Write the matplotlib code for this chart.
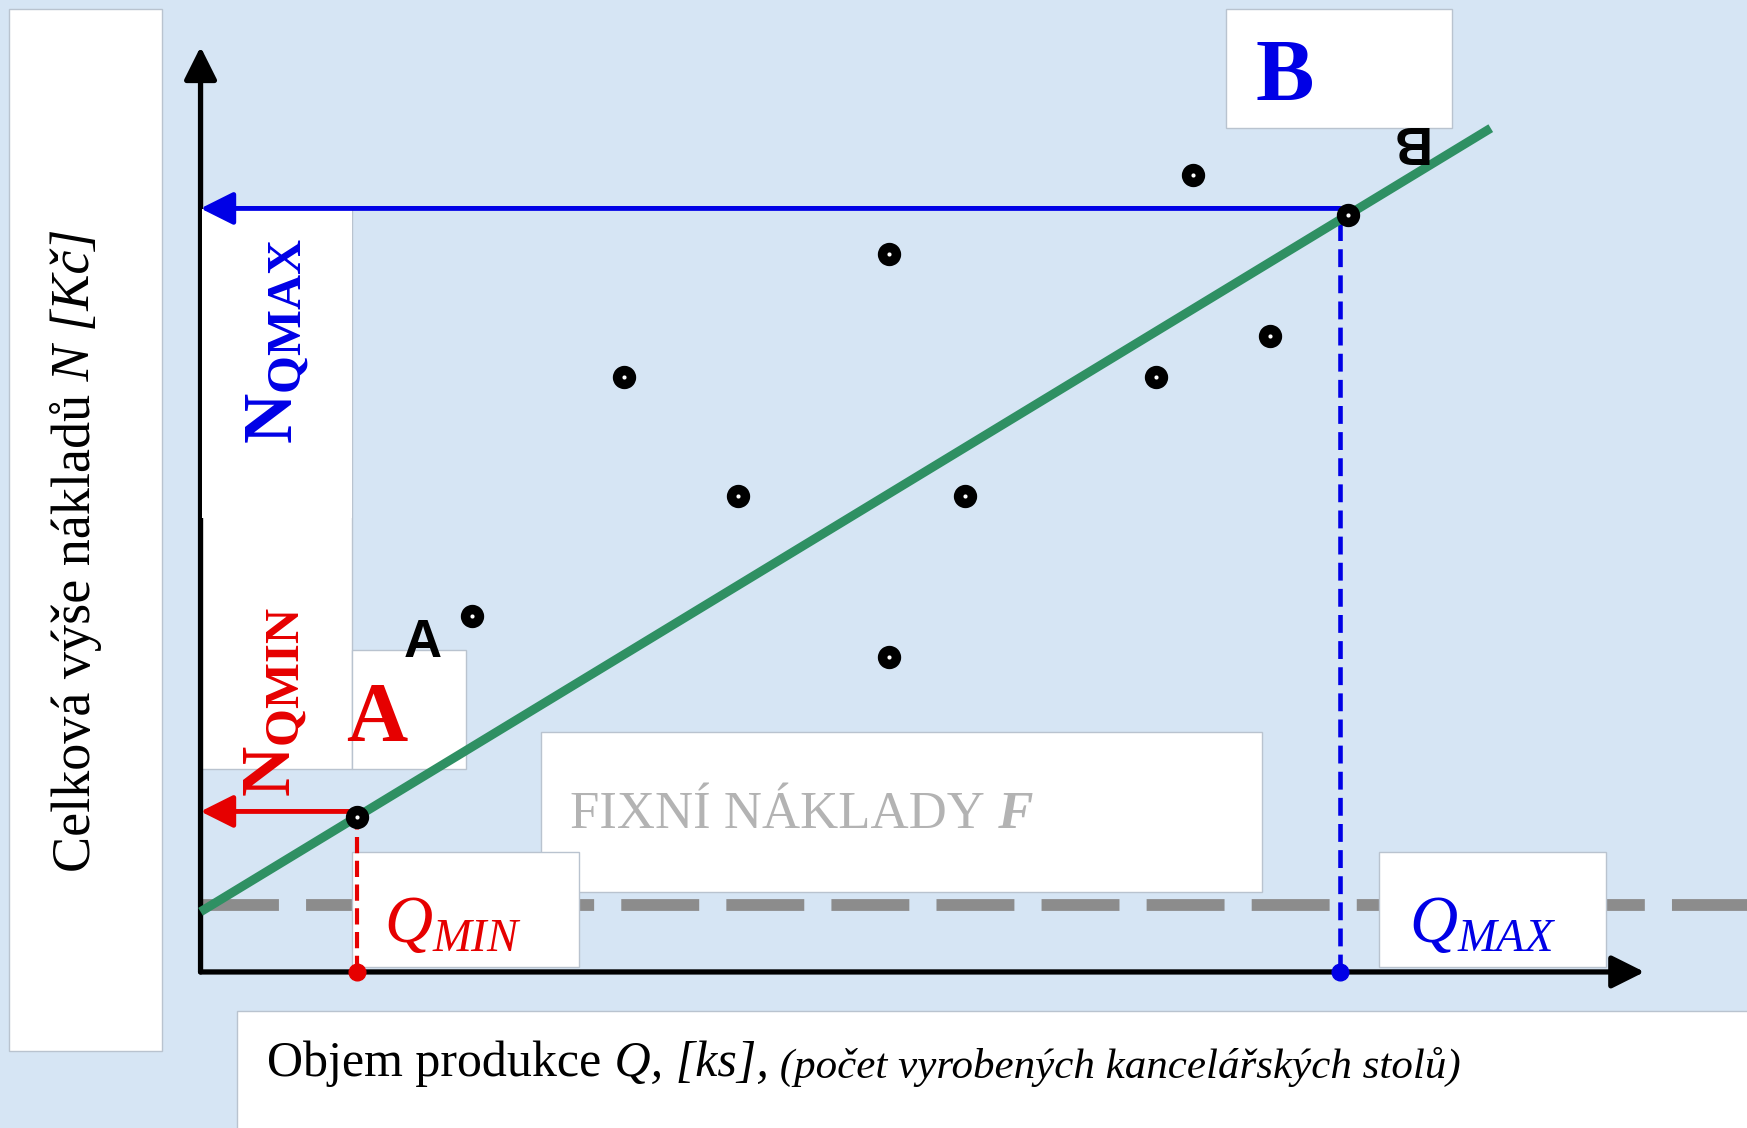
import matplotlib
matplotlib.use('Agg')
import matplotlib.pyplot as plt
from matplotlib.patches import Rectangle

plt.rcParams['font.family'] = ['Liberation Serif', 'DejaVu Serif']
plt.rcParams['mathtext.fontset'] = 'custom'
plt.rcParams['mathtext.rm'] = 'Liberation Serif'
plt.rcParams['mathtext.it'] = 'Liberation Serif:italic'
plt.rcParams['mathtext.bf'] = 'Liberation Serif:bold'

# schematic values (arbitrary units)
q_min, q_max = 1.40, 10.23
n_qmin, n_qmax = 1.44, 6.85
fixed_cost = 0.60
line_q = [0.0, 11.58]
line_n = [0.54, 7.57]
pts_q = [2.44, 3.80, 4.82, 6.18, 6.18, 6.86, 8.58, 8.91, 9.60]
pts_n = [3.19, 5.34, 4.27, 6.44, 2.83, 4.27, 5.34, 7.15, 5.71]
ab_q = [q_min, 10.30]
ab_n = [1.39, 6.79]
x_end, y_end = 12.96, 8.30

bg = '#d6e5f4'
blue = '#0000e6'
red = '#e60000'
green = '#2f9063'
edge = '#b9c3cf'

fig = plt.figure(figsize=(17.47, 11.28), dpi=100)
fig.patch.set_facecolor(bg)
ax = fig.add_axes([0, 0, 1, 1])
ax.set_xlim(-1.80, 13.88)
ax.set_ylim(-1.40, 8.72)
ax.axis('off')


def box(x0, y0, x1, y1, z=1, ec=edge):
    ax.add_patch(Rectangle((x0, y0), x1 - x0, y1 - y0, facecolor='white',
                           edgecolor=ec, lw=1, zorder=z))


box(-1.72, -0.71, -0.35, 8.64)      # y label
box(0.0, 1.82, 1.36, 6.85)          # N_QMIN / N_QMAX column
box(0.012, 4.07, 1.355, 6.845, z=2.5, ec='none')  # hides part of the axis
box(1.36, 1.82, 2.38, 2.89)         # A
box(3.06, 0.72, 9.53, 2.15)         # fixed costs
box(1.36, 0.04, 3.40, 1.08)         # Q_MIN
box(10.58, 0.04, 12.61, 1.08)       # Q_MAX
box(9.20, 7.57, 11.23, 8.64)        # B
box(0.33, -1.60, 14.2, -0.35)       # x label

# fixed costs line
ax.plot([0, 13.88], [fixed_cost, fixed_cost], color='#8c8c8c', lw=8.5,
        dashes=(6.6, 2.3), solid_capstyle='butt', zorder=0.5)

# axes with arrows
arrow = dict(arrowstyle='-|>,head_length=1.0,head_width=0.5', mutation_scale=20,
             shrinkA=0, shrinkB=0)
ax.annotate('', xy=(x_end, 0), xytext=(0, 0),
            arrowprops=dict(color='black', lw=3.8, **arrow), zorder=2)
ax.annotate('', xy=(0, y_end), xytext=(0, 0),
            arrowprops=dict(color='black', lw=3.8, **arrow), zorder=2)

# guides to A and B
ax.plot([q_min, q_min], [0, n_qmin], color=red, lw=3, dashes=(3.9, 1.8), zorder=3)
ax.plot([q_max, q_max], [0, n_qmax], color=blue, lw=3.3, dashes=(3.9, 1.8), zorder=3)
ax.annotate('', xy=(0, n_qmin), xytext=(q_min, n_qmin),
            arrowprops=dict(color=red, lw=3.5, **arrow), zorder=3)
ax.annotate('', xy=(0, n_qmax), xytext=(q_max, n_qmax),
            arrowprops=dict(color=blue, lw=3.5, **arrow), zorder=3)
ax.plot([q_min], [0], 'o', color=red, ms=12, zorder=4)
ax.plot([q_max], [0], 'o', color=blue, ms=12, zorder=4)

# cost line and observations
ax.plot(line_q, line_n, color=green, lw=6.5, solid_capstyle='butt', zorder=4)
ax.plot(pts_q + ab_q, pts_n + ab_n, 'o', ms=10, mfc='white', mec='black',
        mew=6.8, zorder=5)

# labels
ax.text(0.69, 5.66, r'$\mathbf{N}_{\mathbf{QMAX}}$', color=blue, fontsize=50,
        rotation=90, ha='center', va='center', zorder=6)
ax.text(0.67, 2.42, r'$\mathbf{N}_{\mathbf{QMIN}}$', color=red, fontsize=50,
        rotation=90, ha='center', va='center', zorder=6)
ax.text(1.58, 2.26, 'A', color=red, fontsize=61, fontweight='bold',
        ha='center', va='center', zorder=6)
ax.text(1.99, 2.95, 'A', color='black', fontsize=38, fontweight='bold',
        family='Liberation Sans', ha='center', va='center', zorder=6)
ax.text(9.73, 8.02, 'B', color=blue, fontsize=63, fontweight='bold',
        ha='center', va='center', zorder=6)
ax.text(10.83, 7.46, 'B', color='black', fontsize=38, fontweight='bold',
        family='Liberation Sans', rotation=180, ha='center', va='center', zorder=6)
ax.text(1.65, 0.27, r'$Q_{MIN}$', color=red, fontsize=48, ha='left',
        va='baseline', zorder=6)
ax.text(10.85, 0.27, r'$Q_{MAX}$', color=blue, fontsize=48, ha='left',
        va='baseline', zorder=6)

t = ax.text(3.32, 1.29, 'FIXNÍ NÁKLADY', color='#b3b3b3', fontsize=38,
            ha='left', va='baseline', zorder=6)
ax.annotate(' F', xy=(1, 0), xycoords=t, color='#b3b3b3', fontsize=38,
            style='italic', fontweight='bold', ha='left', va='bottom', zorder=6)

t = ax.text(0.60, -0.93, 'Objem produkce', fontsize=36, ha='left',
            va='baseline', zorder=6)
t = ax.annotate(' Q, [ks],', xy=(1, 0), xycoords=t, fontsize=36, style='italic',
                ha='left', va='bottom', zorder=6)
ax.annotate(' (počet vyrobených kancelářských stolů)', xy=(1, 0), xycoords=t,
            fontsize=31, style='italic', ha='left', va='bottom', zorder=6)

t = ax.text(-1.12, 0.90, 'Celková výše nákladů', fontsize=39, rotation=90,
            ha='center', va='bottom', zorder=6)
ax.annotate(' N [Kč]', xy=(0.5, 1), xycoords=t, fontsize=39, style='italic',
            rotation=90, ha='center', va='bottom', zorder=6)

fig.savefig('out.png', dpi=100, facecolor=bg)
